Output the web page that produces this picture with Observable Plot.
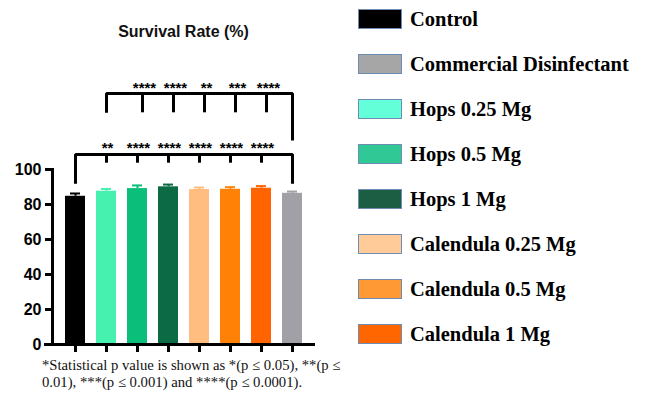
<!DOCTYPE html>
<html><head><meta charset="utf-8">
<script src="https://cdn.jsdelivr.net/npm/d3@7"></script>
<script src="https://cdn.jsdelivr.net/npm/@observablehq/plot@0.6"></script>
<style>
body{margin:0;background:#fff;}
#wrap{position:relative;width:645px;height:397px;overflow:hidden;background:#fff;}
#chart{position:absolute;left:0;top:0;}
#title{position:absolute;left:52px;width:263px;top:23px;line-height:18px;text-align:center;font:bold 16px "Liberation Sans",Arial,sans-serif;color:#111;}
#legend{position:absolute;left:358px;top:-3.5px;}
.row{display:flex;align-items:center;height:45px;}
.box{width:42px;height:18px;border:1.5px solid #6f8db3;box-sizing:content-box;}
.lab{margin-left:8px;font:bold 20.5px "Liberation Serif","Times New Roman",serif;color:#000;white-space:nowrap;}
#note{position:absolute;left:42px;top:357px;font:14.7px "Liberation Serif","Times New Roman",serif;line-height:17px;color:#111;white-space:nowrap;}
</style>
</head><body>
<div id="wrap">
  <div id="chart"></div>
  <div id="title"></div>
  <div id="legend"></div>
  <div id="note"></div>
</div>
<script>
// ---- data ----
const groups = ["Control","Hops 0.25 Mg","Hops 0.5 Mg","Hops 1 Mg","Calendula 0.25 Mg","Calendula 0.5 Mg","Calendula 1 Mg","Commercial Disinfectant"];
const means  = [84.7, 87.6, 89.1, 90.1, 88.6, 88.7, 89.3, 86.4];
const uppers = [86.3, 88.9, 90.9, 91.4, 89.7, 89.9, 90.5, 87.4];
const barColors = ["#000000","#46F0AE","#0BBF7A","#0C6A44","#FFBE80","#FF8207","#FF6400","#A0A0A6"];
const yTicks = [0, 20, 40, 60, 80, 100];
const lowerStars = ["**","****","****","****","****","****"];
const upperStars = ["****","****","**","***","****"];
// bracket levels (in y units)
const lowerLevel = 108.6, lowerEnd = 91.8, lowerTickEnd = 103.6;
const upperLevel = 143.4, upperLeftEnd = 132.4, upperRightEnd = 116.6, upperTickEnd = 132.4;
const legendLabels = ["Control","Commercial Disinfectant","Hops 0.25 Mg","Hops 0.5 Mg","Hops 1 Mg","Calendula 0.25 Mg","Calendula 0.5 Mg","Calendula 1 Mg"];
const legendColors = ["#000000","#A6A6A6","#62FFD8","#30C996","#1B5E43","#FFCC99","#FF9933","#FF6600"];
const titleText = "Survival Rate (%)";
const noteLines = ["*Statistical p value is shown as *(p \u2264 0.05), **(p \u2264", "0.01), ***(p \u2264 0.001) and ****(p \u2264 0.0001)."];

// ---- tables ----
const data = groups.map((g, i) => ({group: g, mean: means[i], upper: uppers[i], color: barColors[i]}));
const lowerTicks = groups.slice(1, 7).map((g, i) => ({group: g, stars: lowerStars[i]}));
const upperTicks = groups.slice(2, 7).map((g, i) => ({group: g, stars: upperStars[i]}));
const lowerPath = [
  {group: groups[0], y: lowerEnd}, {group: groups[0], y: lowerLevel},
  {group: groups[7], y: lowerLevel}, {group: groups[7], y: lowerEnd}];
const upperPath = [
  {group: groups[1], y: upperLeftEnd}, {group: groups[1], y: upperLevel},
  {group: groups[7], y: upperLevel}, {group: groups[7], y: upperRightEnd}];

const sans = "'Liberation Sans', Arial, sans-serif";
const lw = 3;

const chart = Plot.plot({
  width: 330, height: 397,
  marginLeft: 52, marginRight: 15, marginTop: 169, marginBottom: 53,
  style: {background: "transparent", overflow: "visible"},
  x: {domain: groups, paddingInner: 0.36, paddingOuter: 0.38, axis: null},
  y: {domain: [0, 100], axis: null},
  color: {type: "identity"},
  marks: [
    Plot.barY(data, {x: "group", y: "mean", fill: "color"}),
    Plot.ruleX(data, {x: "group", y1: "mean", y2: "upper", stroke: "color", strokeWidth: 2}),
    Plot.tickY(data, {x: "group", y: "upper", stroke: "color", strokeWidth: 2, insetLeft: 5, insetRight: 5}),
    Plot.ruleY([0], {strokeWidth: lw, insetLeft: -8}),
    Plot.frame({anchor: "left", strokeWidth: lw}),
    Plot.axisY({ticks: yTicks, tickSize: 7, tickPadding: 4, strokeWidth: lw, fontSize: 16, fontWeight: "bold", fontFamily: sans, label: null}),
    Plot.axisX({tickSize: 8, strokeWidth: lw, tickFormat: () => "", label: null}),
    // lower bracket
    Plot.line(lowerPath, {x: "group", y: "y", strokeWidth: lw, strokeLinejoin: "miter", strokeLinecap: "butt"}),
    Plot.ruleX(lowerTicks, {x: "group", y1: lowerLevel, y2: lowerTickEnd, strokeWidth: lw}),
    Plot.text(lowerTicks, {x: "group", y: lowerLevel, text: "stars", lineAnchor: "bottom", dy: -1, dx: 1, fontSize: 15, fontWeight: "bold", fontFamily: sans}),
    // upper bracket
    Plot.line(upperPath, {x: "group", y: "y", strokeWidth: lw, strokeLinejoin: "miter", strokeLinecap: "butt"}),
    Plot.ruleX(upperTicks, {x: "group", y1: upperLevel, y2: upperTickEnd, strokeWidth: lw, dx: 5}),
    Plot.text(upperTicks, {x: "group", y: upperLevel, text: "stars", lineAnchor: "bottom", dy: -1, dx: 7, fontSize: 15, fontWeight: "bold", fontFamily: sans})
  ]
});
document.getElementById("chart").appendChild(chart);

document.getElementById("title").textContent = titleText;
const legend = document.getElementById("legend");
legendLabels.forEach((l, i) => {
  const row = document.createElement("div"); row.className = "row";
  const box = document.createElement("div"); box.className = "box"; box.style.background = legendColors[i];
  const lab = document.createElement("div"); lab.className = "lab"; lab.textContent = l;
  row.appendChild(box); row.appendChild(lab); legend.appendChild(row);
});
const note = document.getElementById("note");
noteLines.forEach(t => { const d = document.createElement("div"); d.textContent = t; note.appendChild(d); });
</script>
</body></html>
